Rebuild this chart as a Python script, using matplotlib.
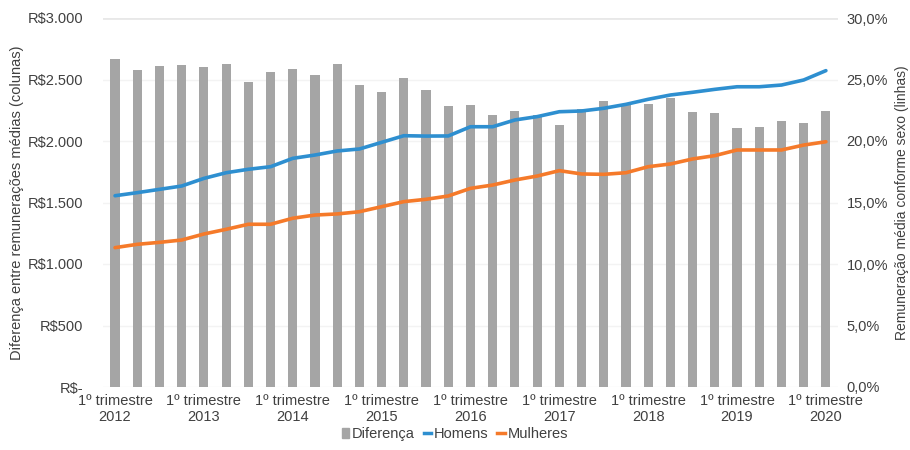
import matplotlib
matplotlib.use("Agg")
import matplotlib.pyplot as plt
from matplotlib.ticker import FuncFormatter, MultipleLocator
from matplotlib.lines import Line2D
from matplotlib.patches import Patch

plt.rcParams['font.family'] = ['Liberation Sans', 'DejaVu Sans']

# Quarterly series, 1º trimestre 2012 .. 1º trimestre 2020
years = list(range(2012, 2021))
diferenca = [2667, 2577, 2612, 2615, 2604, 2623, 2477, 2558, 2588, 2537, 2626,
             2455, 2401, 2512, 2415, 2282, 2293, 2211, 2244, 2211, 2130, 2260,
             2325, 2293, 2301, 2347, 2236, 2230, 2106, 2111, 2160, 2149, 2244]
homens = [15.55, 15.80, 16.07, 16.34, 16.96, 17.42, 17.70, 17.91, 18.59, 18.86, 19.19,
          19.35, 19.89, 20.43, 20.40, 20.41, 21.16, 21.16, 21.71, 21.98, 22.38, 22.44,
          22.66, 22.98, 23.39, 23.74, 23.96, 24.20, 24.41, 24.41, 24.55, 24.96, 25.72]
mulheres = [11.33, 11.60, 11.76, 11.95, 12.44, 12.82, 13.23, 13.23, 13.72, 13.98, 14.07,
            14.25, 14.66, 15.07, 15.26, 15.53, 16.15, 16.42, 16.83, 17.15, 17.59, 17.32,
            17.29, 17.42, 17.91, 18.13, 18.54, 18.81, 19.27, 19.27, 19.27, 19.67, 19.94]

tick_labels = [f"1º trimestre\n{y}" for y in years]

bar_color = "#a5a5a5"
blue = "#2e8fd0"
orange = "#f57a2a"
text_color = "#404040"

fig = plt.figure(figsize=(9.1, 4.5), dpi=100)
ax = fig.add_axes([0.113, 0.14, 0.808, 0.82])
ax2 = ax.twinx()

x = list(range(len(diferenca)))
ax.bar(x, diferenca, width=0.41, color=bar_color, zorder=2)
ax2.plot(x, homens, color=blue, lw=2.6, solid_capstyle='round', zorder=3)
ax2.plot(x, mulheres, color=orange, lw=2.6, solid_capstyle='round', zorder=3)

ax.set_xlim(-0.55, len(x) - 0.45)
ax.set_ylim(0, 3000)
ax2.set_ylim(0, 30)
ax.yaxis.set_major_locator(MultipleLocator(500))
ax2.yaxis.set_major_locator(MultipleLocator(5))

def reais(v, pos):
    if v == 0:
        return "R$-"
    return "R$" + f"{int(v):,}".replace(",", ".")

ax.yaxis.set_major_formatter(FuncFormatter(reais))
ax2.yaxis.set_major_formatter(FuncFormatter(lambda v, p: f"{v:.1f}%".replace(".", ",")))

ax.set_xticks(x[::4])
ax.set_xticklabels(tick_labels)

for a in (ax, ax2):
    for s in a.spines.values():
        s.set_visible(False)
    a.tick_params(length=0, colors=text_color, labelsize=10.5)
ax.tick_params(axis='y', pad=14)
ax2.tick_params(axis='y', pad=6)
ax.tick_params(axis='x', pad=5)

ax.grid(axis='y', color="#f3f3f3", lw=1, zorder=0)
ax.axhline(3000, color="#e8e8e8", lw=2, zorder=1)
ax.set_axisbelow(True)

ax.set_ylabel("Diferença entre remunerações médias (colunas)", color=text_color,
              fontsize=10.5, labelpad=3)
ax2.set_ylabel("Remuneração média conforme sexo (linhas)", color=text_color,
               fontsize=10, rotation=90, labelpad=5)

handles = [Patch(color=bar_color, label="Diferença"),
           Line2D([], [], color=blue, lw=2.5, label="Homens"),
           Line2D([], [], color=orange, lw=2.5, label="Mulheres")]
fig.legend(handles=handles, loc='lower center', bbox_to_anchor=(0.5, -0.01), ncol=3,
           frameon=False, handlelength=0.5, handleheight=0.7, handletextpad=0.2,
           columnspacing=0.6, fontsize=10.5, labelcolor=text_color)

fig.savefig("out.png", dpi=100, facecolor="white")
